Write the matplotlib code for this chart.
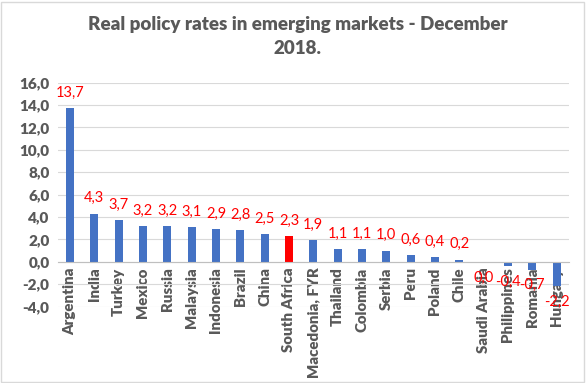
import matplotlib.pyplot as plt

# Datos
countries = ['Argentina', 'India', 'Turkey', 'Mexico', 'Russia', 'Malaysia', 'Indonesia',
             'Brazil', 'China', 'South Africa', 'Macedonia, FYR', 'Thailand', 'Colombia',
             'Serbia', 'Peru', 'Poland', 'Chile', 'Saudi Arabia', 'Philippines', 'Romania',
             'Hungary']
rates = [13.7, 4.3, 3.7, 3.2, 3.2, 3.1, 2.9, 2.8, 2.5, 2.3, 1.9, 1.1, 1.1, 1.0, 0.6, 0.4,
         0.2, -0.04, -0.4, -0.7, -2.2]
highlight = 'South Africa'

plt.rcParams['font.family'] = ['Lato', 'DejaVu Sans']

fig = plt.figure(figsize=(5.87, 3.83), dpi=100)
ax = fig.add_axes([0.0985, 0.1997, 0.8705, 0.5843])

colors = ['#FF0000' if c == highlight else '#4472C4' for c in countries]
x = range(len(countries))
bars = ax.bar(x, rates, width=0.33, color=colors, zorder=3)

ax.set_xlim(-0.5, len(countries) - 0.5)
ax.set_ylim(-4, 16)
ax.set_yticks(range(-4, 17, 2))
ax.set_yticklabels([f'{v:.1f}'.replace('.', ',') for v in range(-4, 17, 2)],
                   fontsize=11, fontweight='heavy', color='#595959')
ax.grid(axis='y', color='#D9D9D9', linewidth=0.8, zorder=0)
ax.tick_params(axis='y', length=0, pad=6)

# eje x en cero
for s in ['top', 'right', 'left']:
    ax.spines[s].set_visible(False)
ax.spines['bottom'].set_position(('data', 0))
ax.spines['bottom'].set_color('#BFBFBF')
ax.spines['bottom'].set_zorder(4)
ax.set_xticks(list(x))
ax.set_xticklabels(countries, rotation=90, ha='center', va='top',
                   fontsize=10.8, fontweight='heavy', color='#595959')
ax.tick_params(axis='x', length=0, pad=4)

# etiquetas de valores
for bar, v in zip(bars, rates):
    txt = f'{round(v, 1):.1f}'
    if txt == '-0.0':
        txt = '0.0'
    off = 11 if v >= 0 else -11
    ax.annotate(txt.replace('.', ','), (bar.get_x() + bar.get_width() / 2, v),
                xytext=(0, off), textcoords='offset points',
                ha='center', va='center', fontsize=10.5, color='#FF0000', zorder=5)

fig.text(0.507, 0.906, 'Real policy rates in emerging markets - December\n2018.',
         ha='center', va='center', fontsize=13.5, fontweight='heavy', color='#595959',
         linespacing=1.5)

fig.patches.append(plt.Rectangle((0.002, 0.002), 0.993, 0.993, transform=fig.transFigure,
                                 fill=False, edgecolor='#D9D9D9', linewidth=1))

fig.savefig('out.png', dpi=100)
